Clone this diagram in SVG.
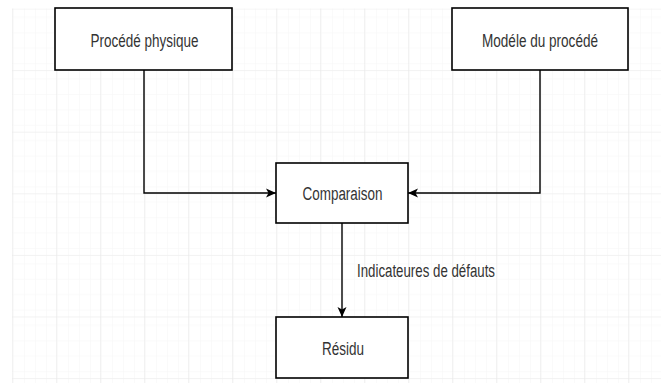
<svg xmlns="http://www.w3.org/2000/svg" width="661" height="383" viewBox="0 0 661 383">
  <style>
    .box { fill: #ffffff; stroke: #000000; stroke-width: 1.6; }
    .label { font-family: "Liberation Sans", Arial, sans-serif; font-size: 18px; fill: #333333; text-anchor: middle; }
    .edge { fill: none; stroke: #000000; stroke-width: 1.4; marker-end: url(#arrow); }
  </style>
  <defs>
    <pattern id="minorGrid" patternUnits="userSpaceOnUse" x="12" y="8.5" width="11" height="15.4">
      <path d="M0,0 H11 M0,0 V15.4" fill="none" stroke="#f6f6f6" stroke-width="1"/>
    </pattern>
    <pattern id="majorGrid" patternUnits="userSpaceOnUse" x="12" y="8.5" width="44" height="61.6">
      <rect width="44" height="61.6" fill="url(#minorGrid)"/>
      <path d="M0,0 H44 M0,0 V61.6" fill="none" stroke="#e6e6e6" stroke-width="1"/>
    </pattern>
    <marker id="arrow" markerUnits="userSpaceOnUse" markerWidth="12" markerHeight="10" refX="11" refY="5" orient="auto">
      <path d="M1,0.5 L11,5 L1,9.5 L3.5,5 Z" fill="#000000"/>
    </marker>
  </defs>

  <rect width="661" height="383" fill="#ffffff"/>
  <rect x="12" y="8.5" width="649" height="374.5" fill="url(#majorGrid)"/>

  <g id="connectors">
    <path class="edge" d="M144,70 V193 H276"/>
    <path class="edge" d="M540,70 V193 H408"/>
    <path class="edge" d="M342,223 V317"/>
    <text class="label" x="426" y="277" textLength="138" lengthAdjust="spacingAndGlyphs">Indicateures de défauts</text>
  </g>

  <g id="procede-physique">
    <rect class="box" x="55" y="8" width="177" height="62"/>
    <text class="label" x="144.5" y="46.5" textLength="108" lengthAdjust="spacingAndGlyphs">Procédé physique</text>
  </g>

  <g id="modele-procede">
    <rect class="box" x="452" y="8" width="176" height="62"/>
    <text class="label" x="540" y="46.5" textLength="116" lengthAdjust="spacingAndGlyphs">Modéle du procédé</text>
  </g>

  <g id="comparaison">
    <rect class="box" x="276" y="163" width="132" height="60"/>
    <text class="label" x="342.5" y="200" textLength="80" lengthAdjust="spacingAndGlyphs">Comparaison</text>
  </g>

  <g id="residu">
    <rect class="box" x="276" y="317" width="132" height="61"/>
    <text class="label" x="343" y="355" textLength="42" lengthAdjust="spacingAndGlyphs">Résidu</text>
  </g>
</svg>
